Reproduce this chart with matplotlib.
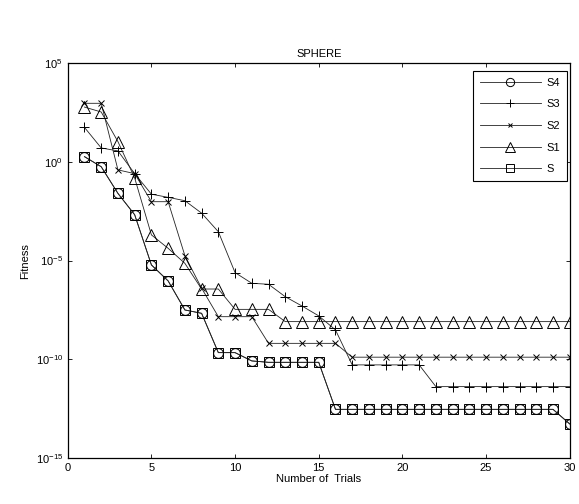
import numpy as np
import matplotlib
matplotlib.use('Agg')
import matplotlib.pyplot as plt
from matplotlib.ticker import NullLocator

plt.rcParams['font.family'] = ['Liberation Sans', 'DejaVu Sans']
plt.rcParams['font.size'] = 8

trials = np.arange(1, 31)

# log10 of fitness
log_s = [0.26, -0.25, -1.6, -2.68, -5.22, -6.03, -7.5, -7.67, -9.66, -9.66,
         -10.08, -10.15, -10.15, -10.15, -10.15, -12.53, -12.53, -12.53, -12.53, -12.53,
         -12.53, -12.53, -12.53, -12.53, -12.53, -12.53, -12.53, -12.53, -12.53, -13.27]
log_s4 = list(log_s)
log_s3 = [1.74, 0.7, 0.55, -0.6, -1.64, -1.8, -1.97, -2.6, -3.54, -5.61,
          -6.15, -6.2, -6.83, -7.3, -7.8, -8.51, -10.28, -10.28, -10.28, -10.28,
          -10.28, -11.38, -11.38, -11.38, -11.38, -11.38, -11.38, -11.38, -11.38, -11.38]
log_s2 = [2.96, 2.96, -0.41, -0.6, -2.02, -2.02, -4.75, -6.4, -7.84, -7.84,
          -7.84, -9.19, -9.19, -9.19, -9.19, -9.19, -9.89, -9.89, -9.89, -9.89,
          -9.89, -9.89, -9.89, -9.89, -9.89, -9.89, -9.89, -9.89, -9.89, -9.89]
log_s1 = [2.77, 2.52, 1.02, -0.82, -3.7, -4.38, -5.14, -6.44, -6.44, -7.47,
          -7.47, -7.47, -8.09, -8.09, -8.09, -8.09, -8.09, -8.09, -8.09, -8.09,
          -8.09, -8.09, -8.09, -8.09, -8.09, -8.09, -8.09, -8.09, -8.09, -8.09]

series = [('S4', log_s4, 'o', 7), ('S3', log_s3, '+', 7),
          ('S2', log_s2, 'x', 4), ('S1', log_s1, '^', 8), ('S', log_s, 's', 7)]

fig = plt.figure(figsize=(5.79, 5.04), dpi=100)
ax = fig.add_axes([0.117, 0.091, 0.867, 0.784])

for name, vals, mk, ms in series:
    ax.plot(trials, 10.0 ** np.array(vals), color='#222222', linewidth=0.6,
            marker=mk, markersize=ms, markerfacecolor='none',
            markeredgecolor='black', markeredgewidth=0.7, label=name)

ax.set_yscale('log')
ax.set_xlim(0, 30)
ax.set_ylim(1e-15, 1e5)
ax.set_xticks([0, 5, 10, 15, 20, 25, 30])
ax.set_yticks([1e-15, 1e-10, 1e-5, 1e0, 1e5])
ax.yaxis.set_minor_locator(NullLocator())
ax.tick_params(direction='in', top=True, right=True, length=3, width=0.6)
for sp in ax.spines.values():
    sp.set_linewidth(0.9)

ax.set_title('SPHERE', fontsize=8, pad=4)
ax.set_xlabel('Number of  Trials', fontsize=8, labelpad=1)
ax.set_ylabel('Fitness', fontsize=8)

leg = ax.legend(loc='upper right', bbox_to_anchor=(0.994, 0.98), fontsize=8,
                handlelength=5.5, fancybox=False, edgecolor='black', framealpha=1,
                borderaxespad=0, labelspacing=1.05, markerscale=0.85,
                handletextpad=0.5, borderpad=0.6)
leg.get_frame().set_linewidth(0.8)

fig.savefig('out.png', dpi=100)
